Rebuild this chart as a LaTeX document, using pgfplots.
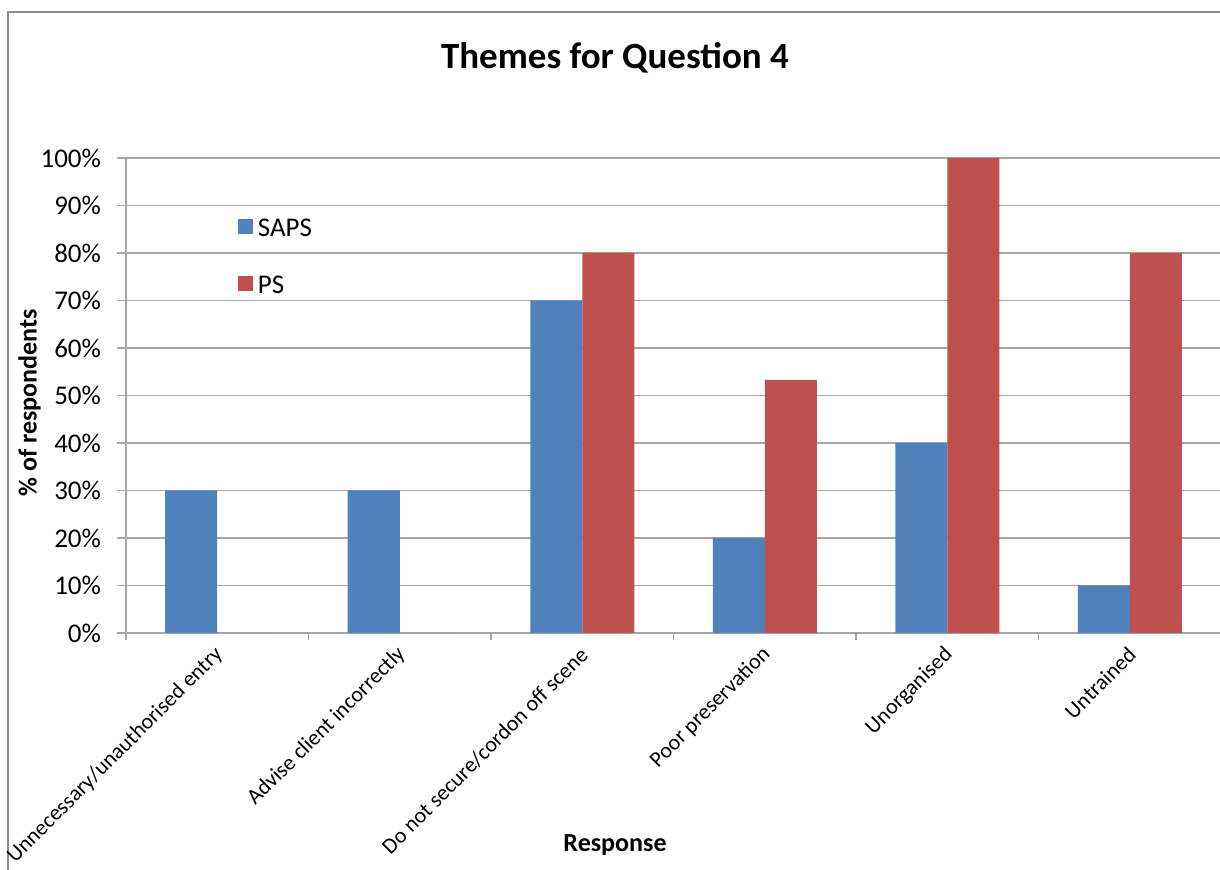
\documentclass[border=0pt]{standalone}
\usepackage{pgfplots}
\pgfplotsset{compat=1.18}
\usepackage{fontspec}
\setmainfont{Carlito}
\definecolor{sapsblue}{HTML}{4F81BD}
\definecolor{psred}{HTML}{C0504D}
\definecolor{gridgray}{HTML}{A6A6A6}
\definecolor{framegray}{HTML}{8C8C8C}

\begin{document}
\begin{tikzpicture}
\useasboundingbox (-63pt,-118.5pt) rectangle (547pt,316.5pt);
\clip (-63pt,-118.5pt) rectangle (547pt,316.5pt);
% chart frame (top and left edges)
\draw[framegray, line width=1pt] (-59pt,-140pt) -- (-59pt,310.5pt) -- (580pt,310.5pt);
\begin{axis}[
  at={(0,0)}, anchor=south west,
  scale only axis,
  width=547.5pt, height=237.5pt,
  ybar=0pt, bar width=26pt,
  xmin=-0.5, xmax=5.5,
  ymin=0, ymax=100,
  axis lines*=left,
  axis line style={gridgray, line width=0.8pt},
  xtick={0,...,5},
  xticklabels={Unnecessary/unauthorised entry, Advise client incorrectly, Do not secure/cordon off scene, Poor preservation, Unorganised, Untrained},
  major x tick style={draw=none},
  minor xtick={-0.5,0.5,...,5.5},
  minor x tick style={gridgray, line width=0.8pt},
  minor tick length=3.5pt,
  ytick={0,10,...,100},
  yticklabels={0\%,10\%,20\%,30\%,40\%,50\%,60\%,70\%,80\%,90\%,100\%},
  major tick length=4.5pt,
  tick align=outside,
  y tick style={gridgray, line width=0.8pt},
  ymajorgrids,
  grid style={gridgray, line width=0.8pt},
  yticklabel style={font=\fontsize{13.5}{15}\selectfont, xshift=-4.5pt},
  xticklabel style={font=\fontsize{11}{13}\selectfont, rotate=45, anchor=east, xshift=1pt, yshift=-4pt},
  every axis title shift=0pt,
  title={Themes for Question 4},
  title style={font=\fontsize{18.5}{21}\selectfont\bfseries, at={(axis description cs:0.4466,1.2105)}, anchor=center},
  xlabel={Response},
  xlabel style={font=\fontsize{13}{15}\selectfont\bfseries, at={(axis description cs:0.4466,-0.446)}, anchor=center},
  ylabel={\% of respondents},
  ylabel style={font=\fontsize{13}{15}\selectfont\bfseries, at={(axis description cs:-0.088,0.484)}, anchor=center},
  legend style={at={(axis description cs:0.1023,0.873)}, anchor=north west, draw=none, fill=none,
    font=\fontsize{13.5}{15}\selectfont, inner sep=0pt, row sep=17.5pt,
    nodes={inner sep=0pt, text height=9pt, text depth=2pt, anchor=west}},
  legend cell align=left,
  legend image code/.code={\fill[#1] (0pt,-2pt) rectangle (7.5pt,5.5pt);},
]
\addplot[fill=sapsblue, draw=none] coordinates {(0,30) (1,30) (2,70) (3,20) (4,40) (5,10)};
\addplot[fill=psred, draw=none] coordinates {(0,0) (1,0) (2,80) (3,53.3) (4,100) (5,80)};
\legend{\,SAPS,\,PS}
\end{axis}
\end{tikzpicture}
\end{document}
